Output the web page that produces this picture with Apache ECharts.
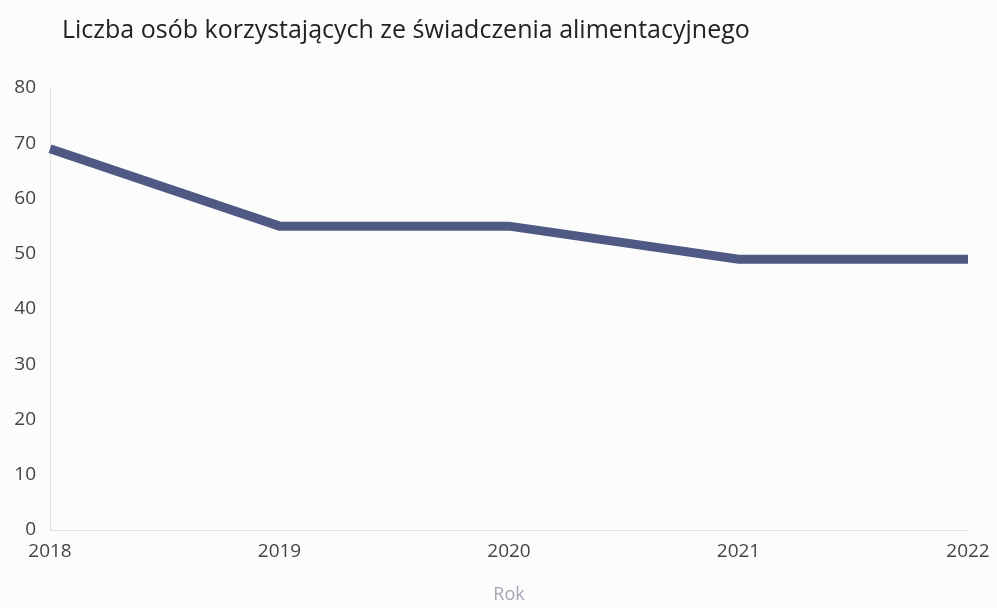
<!DOCTYPE html>
<html><head><meta charset="utf-8">
<script src="https://cdn.jsdelivr.net/npm/echarts@6/dist/echarts.min.js"></script>
<style>html,body{margin:0;padding:0;background:#fcfcfc}#c{width:997px;height:608px}</style>
</head><body><div id="c"></div>
<script>
const titleText = 'Liczba osób korzystających ze świadczenia alimentacyjnego';
const years = ['2018', '2019', '2020', '2021', '2022'];
const values = [69, 55, 55, 49, 49];
const xAxisName = 'Rok';

const chart = echarts.init(document.getElementById('c'));
chart.setOption({
  backgroundColor: '#fcfcfc',
  animation: false,
  title: {
    text: titleText, left: 57, top: 13,
    textStyle: { fontFamily: 'Open Sans', fontSize: 25, fontWeight: 'normal', color: '#222' }
  },
  grid: { left: 50, right: 29, top: 88, bottom: 78, containLabel: false, outerBoundsMode: 'none' },
  xAxis: {
    type: 'category', data: years, boundaryGap: false,
    name: xAxisName, nameLocation: 'middle', nameGap: 56,
    nameTextStyle: { fontFamily: 'Open Sans', fontSize: 18, color: '#a5a5b5' },
    axisLine: { show: true, lineStyle: { color: '#e2e2e2', width: 1 } },
    axisTick: { show: false },
    axisLabel: { fontFamily: 'Open Sans', fontSize: 19, color: '#444', margin: 12 }
  },
  yAxis: {
    type: 'value', min: 0, max: 80, interval: 10,
    axisLine: { show: true, lineStyle: { color: '#e2e2e2', width: 1 } },
    axisTick: { show: false },
    splitLine: { show: false },
    axisLabel: { fontFamily: 'Open Sans', fontSize: 19, color: '#444', margin: 14 }
  },
  series: [{
    type: 'line', data: values, symbol: 'none',
    lineStyle: { color: '#4f5a84', width: 9, join: 'miter' },
    itemStyle: { color: '#4f5a84' }
  }]
});
</script></body></html>
